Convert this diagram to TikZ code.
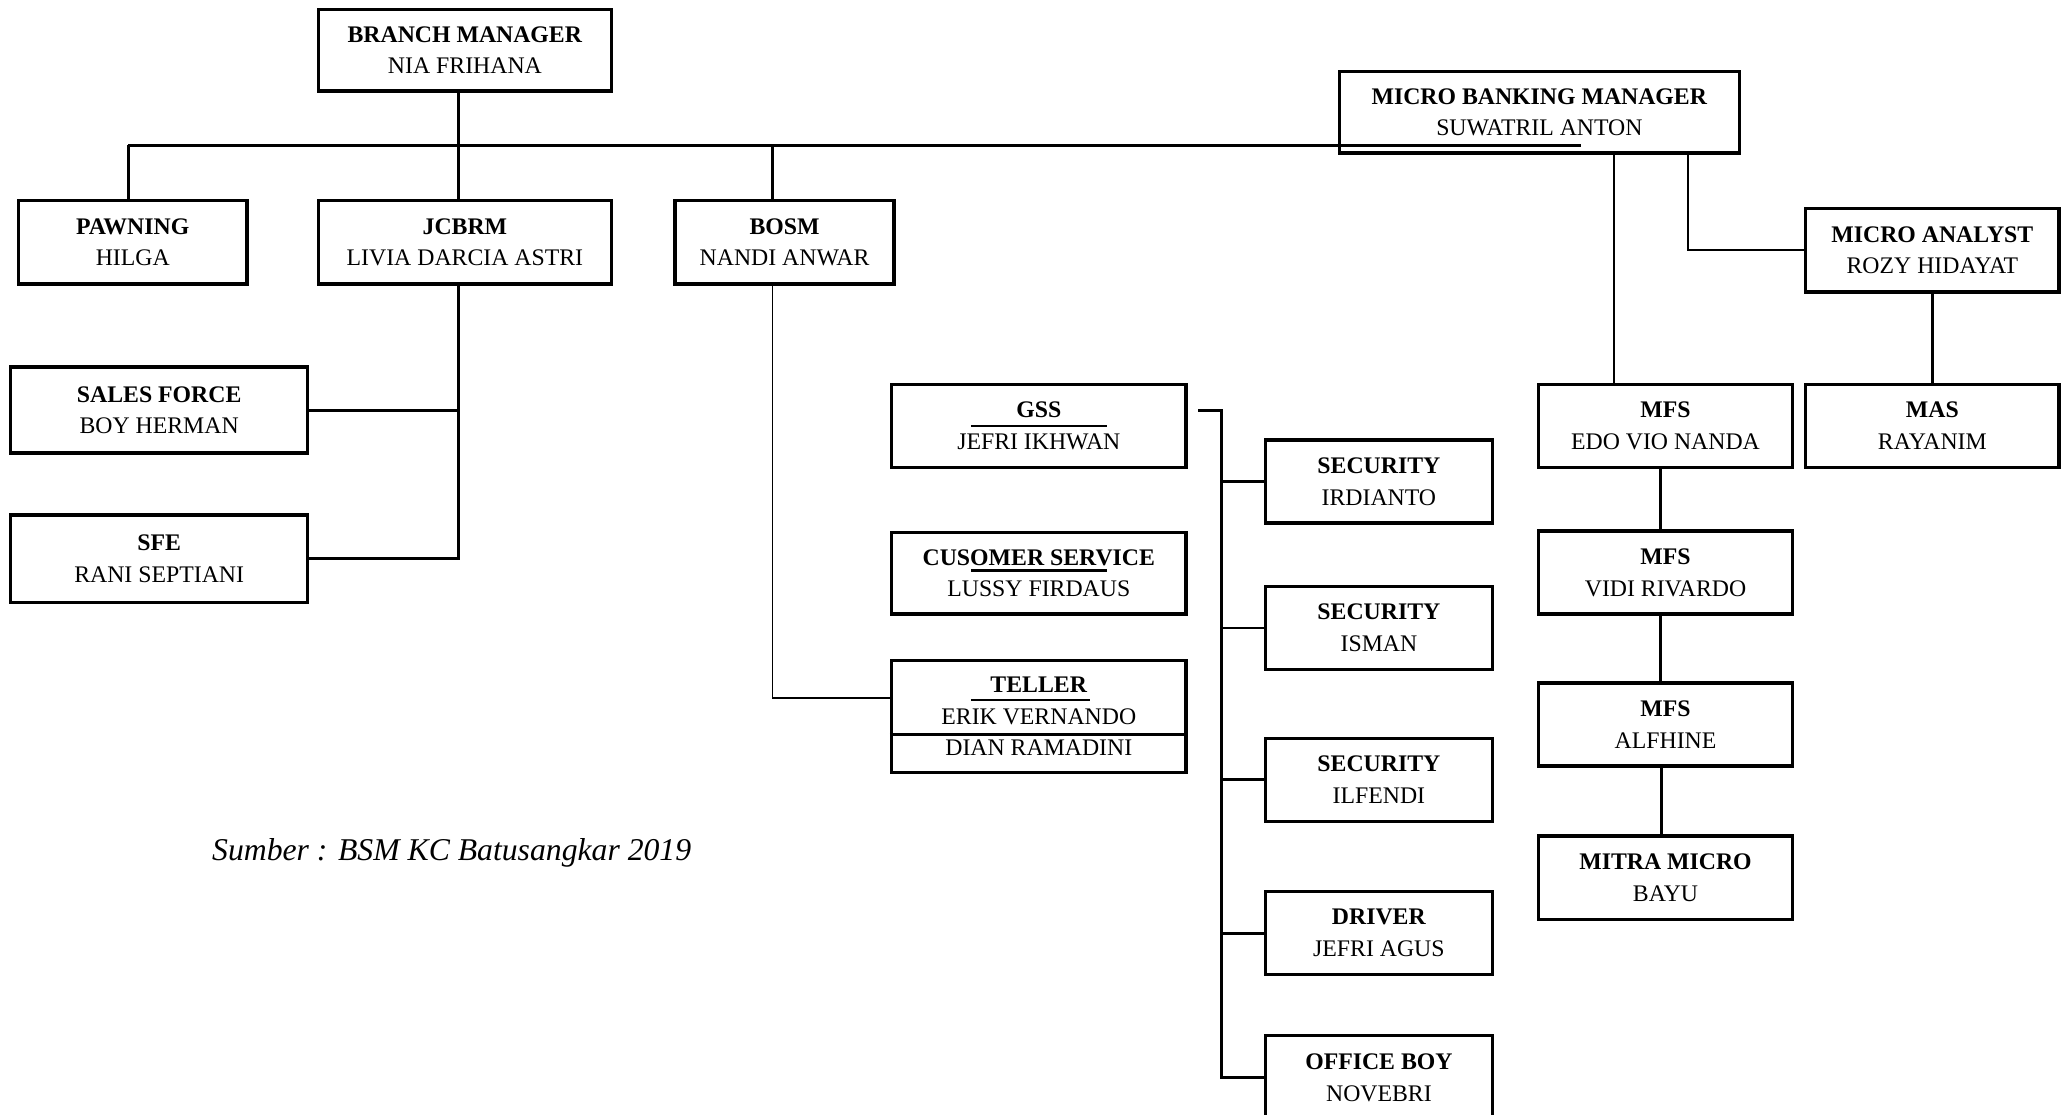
\documentclass[tikz,border=0pt]{standalone}
\usepackage{fontspec}
\setmainfont{Liberation Serif}
\usetikzlibrary{calc}
\begin{document}
\begin{tikzpicture}[x=0.5pt,y=-0.5pt,
  box/.style 2 args={draw, line width=1.3pt, minimum width=#1*0.5pt, minimum height=#2*0.5pt, inner sep=0pt, align=center, font=\fontsize{9}{12}\selectfont},
  bus/.style={line width=1.1pt},
  thinline/.style={line width=0.6pt},
  deco/.style={line width=1pt}]
\useasboundingbox (0,0) rectangle (1568,844);
% nodes
\node[box={222}{62}] (bm) at (352,38) {\textbf{BRANCH MANAGER}\\NIA FRIHANA};
\node[box={303}{62}] (mbm) at (1165.5,85) {\textbf{MICRO BANKING MANAGER}\\SUWATRIL ANTON};
\node[box={173}{63}] (pawn) at (100.5,183.5) {\textbf{PAWNING}\\HILGA};
\node[box={222}{63}] (jcbrm) at (352,183.5) {\textbf{JCBRM}\\LIVIA DARCIA ASTRI};
\node[box={166}{63}] (bosm) at (594,183.5) {\textbf{BOSM}\\NANDI ANWAR};
\node[box={192}{63}] (ma) at (1463,189.5) {\textbf{MICRO ANALYST}\\ROZY HIDAYAT};
\node[box={225}{65}] (sf) at (120.5,310.5) {\textbf{SALES FORCE}\\BOY HERMAN};
\node[box={225}{66}] (sfe) at (120.5,423) {\textbf{SFE}\\RANI SEPTIANI};
\node[box={223}{63}] (gss) at (786.5,322.5) {\textbf{GSS}\\JEFRI IKHWAN};
\node[box={223}{62}] (cs) at (786.5,434) {\textbf{CUSOMER SERVICE}\\LUSSY FIRDAUS};
\node[box={223}{85}] (teller) at (786.5,542.5) {\textbf{TELLER}\\ERIK VERNANDO\\DIAN RAMADINI};
\node[box={172}{63}] (sec1) at (1044,364.5) {\textbf{SECURITY}\\IRDIANTO};
\node[box={172}{63}] (sec2) at (1044,475.5) {\textbf{SECURITY}\\ISMAN};
\node[box={172}{63}] (sec3) at (1044,590.5) {\textbf{SECURITY}\\ILFENDI};
\node[box={172}{63}] (drv) at (1044,706.5) {\textbf{DRIVER}\\JEFRI AGUS};
\node[box={172}{64}] (ob) at (1044,816) {\textbf{OFFICE BOY}\\NOVEBRI};
\node[box={192}{63}] (mfs1) at (1261,322.5) {\textbf{MFS}\\EDO VIO NANDA};
\node[box={192}{63}] (mfs2) at (1261,433.5) {\textbf{MFS}\\VIDI RIVARDO};
\node[box={192}{63}] (mfs3) at (1261,548.5) {\textbf{MFS}\\ALFHINE};
\node[box={192}{63}] (mm) at (1261,664.5) {\textbf{MITRA MICRO}\\BAYU};
\node[box={192}{63}] (mas) at (1463,322.5) {\textbf{MAS}\\RAYANIM};
\node[font=\fontsize{12}{14}\selectfont\itshape] (src) at (342,646) {Sumber : BSM KC Batusangkar 2019};
% connectors
\coordinate (busL) at (97,110);
\coordinate (busR) at (1197,110);
\draw[bus] (busL) -- (busR);
\draw[bus] ([xshift=-2.5pt]bm.south) -- ([xshift=-2.5pt]jcbrm.north);
\draw[bus] (busL) -- (busL |- pawn.north);
\coordinate (bosmTop) at ([xshift=-4.5pt]bosm.north);
\draw[bus] (bosmTop) -- (bosmTop |- busL);
\coordinate (m1) at ([xshift=28.25pt]mbm.south);
\draw[thinline] (m1) -- (m1 |- mfs1.north);
\draw[thinline] ([xshift=56.25pt]mbm.south) |- (ma.west);
\draw[bus] (ma.south) -- (mas.north);
\draw[bus] ([xshift=-2pt]mfs1.south) -- ([xshift=-2pt]mfs2.north);
\draw[bus] ([xshift=-2pt]mfs2.south) -- ([xshift=-2pt]mfs3.north);
\draw[bus] ([xshift=-1.5pt]mfs3.south) -- ([xshift=-1.5pt]mm.north);
\coordinate (jspine) at ([xshift=-2.5pt]jcbrm.south);
\draw[bus] (jspine) |- (sfe.east);
\draw[bus] (sf.east) -- (sf.east -| jspine);
\draw[thinline] ([xshift=-4.5pt]bosm.south) |- ([yshift=7pt]teller.west);
\coordinate (gstart) at ([xshift=4pt,yshift=5.75pt]gss.east);
\coordinate (gtop) at (925,311);
\draw[bus] (gstart) -- (gtop) |- (ob.west);
\draw[bus] (sec1.west) -- (sec1.west -| gtop);
\draw[bus] (sec2.west) -- (sec2.west -| gtop);
\draw[bus] (sec3.west) -- (sec3.west -| gtop);
\draw[bus] (drv.west) -- (drv.west -| gtop);
% decorative lines
\draw[deco] ([xshift=-25.75pt]gss.center) -- ([xshift=25.75pt]gss.center);
\draw[deco] ([shift={(-25.75pt,1pt)}]cs.center) -- ([shift={(25.75pt,1pt)}]cs.center);
\draw[deco] ([shift={(-25.75pt,6.25pt)}]teller.center) -- ([shift={(19.25pt,6.25pt)}]teller.center);
\draw[line width=1.3pt] ([yshift=-6.75pt]teller.west) -- ([yshift=-6.75pt]teller.east);
\end{tikzpicture}
\end{document}
